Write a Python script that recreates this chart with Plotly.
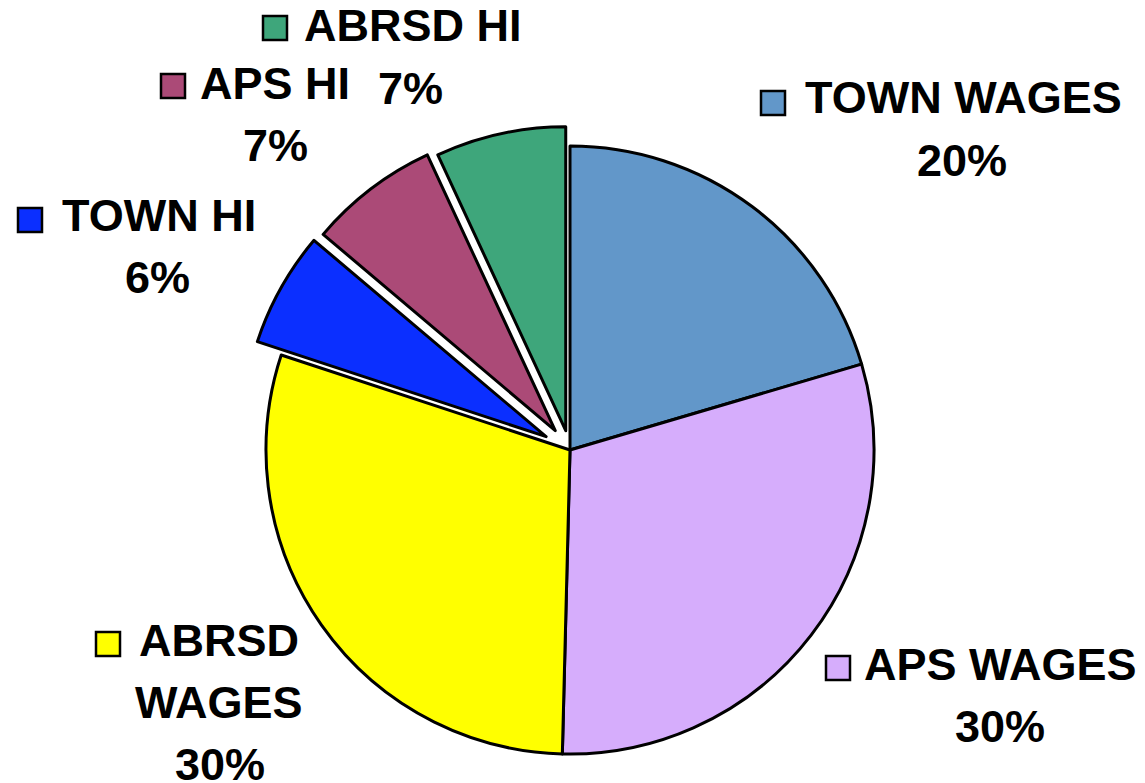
import plotly.graph_objects as go

W, H = 1145, 783
OX, OY = 8, 8  # page body margin of the html page
FW, FH = W - OX, H - OY

labels = ["TOWN WAGES", "APS WAGES", "ABRSD WAGES", "TOWN HI", "APS HI", "ABRSD HI"]
values = [20.4, 29.9, 29.6, 6.1, 6.9, 6.9]
colors = ["#6297C9", "#D6ADFC", "#FFFF00", "#0B2FFF", "#AB4A77", "#3EA67B"]
pulls = [0, 0, 0, 0.09, 0.08, 0.065]

total = sum(values)
pct_text = [f"{v / total * 100:.0f}%" for v in values]

# label placement in window pixels: name lines, x centre of name, x centre of pct,
# y of first line (cap middle), key left, key top
label_pos = {
    "TOWN WAGES": (["TOWN WAGES"], 963, 962, 98, 760, 90),
    "APS WAGES": (["APS WAGES"], 1000, 1000, 664, 825, 655),
    "ABRSD WAGES": (["ABRSD", "WAGES"], 219, 220, 640, 95, 631),
    "TOWN HI": (["TOWN HI"], 159, 157, 215, 17, 207),
    "APS HI": (["APS HI"], 275, 275, 83, 160, 73),
    "ABRSD HI": (["ABRSD HI"], 413, 410, 26, 262, 15),
}
LINE = 62
KEY = 26
FONT = dict(family="Arial, Liberation Sans, sans-serif", size=45, color="black")


def px(x):
    return (x - OX) / FW


def py(y):
    return 1 - (y - OY) / FH


# pie geometry (window pixels)
cx, cy, r = 570, 450, 304
half = r * (1 + max(pulls))

fig = go.Figure(
    go.Pie(
        labels=labels,
        values=values,
        sort=False,
        direction="clockwise",
        rotation=0,
        pull=pulls,
        textinfo="none",
        hoverinfo="label+percent",
        marker=dict(colors=colors, line=dict(color="black", width=3)),
        domain=dict(x=[px(cx - half), px(cx + half)], y=[py(cy + half), py(cy - half)]),
        showlegend=False,
    )
)

annotations = []
shapes = []
for lab, color, pct in zip(labels, colors, pct_text):
    lines, xn, xp, y0, kx, ky = label_pos[lab]
    for i, line in enumerate(lines):
        annotations.append(dict(
            text=f"<b>{line}</b>", x=px(xn), y=py(y0 + i * LINE),
            xref="paper", yref="paper", xanchor="center", yanchor="middle",
            showarrow=False, font=FONT,
        ))
    annotations.append(dict(
        text=f"<b>{pct}</b>", x=px(xp), y=py(y0 + len(lines) * LINE),
        xref="paper", yref="paper", xanchor="center", yanchor="middle",
        showarrow=False, font=FONT,
    ))
    shapes.append(dict(
        type="rect", xref="paper", yref="paper",
        x0=px(kx + 1), x1=px(kx + KEY - 1),
        y0=py(ky + KEY - 1), y1=py(ky + 1),
        fillcolor=color, line=dict(color="black", width=2.5),
    ))

fig.update_layout(
    width=FW,
    height=FH,
    margin=dict(l=0, r=0, t=0, b=0),
    paper_bgcolor="white",
    plot_bgcolor="white",
    annotations=annotations,
    shapes=shapes,
)

fig.write_html("out.html")
